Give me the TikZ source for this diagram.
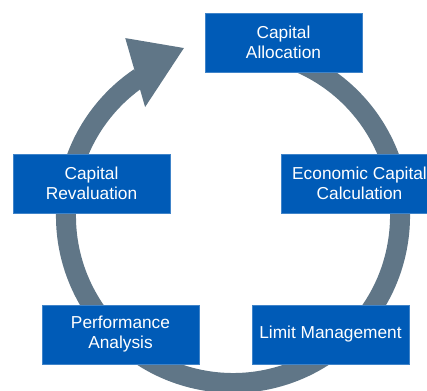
\documentclass[tikz,border=0pt]{standalone}
\usepackage{fontspec}
\setmainfont{Liberation Sans}
\usetikzlibrary{calc}
\definecolor{boxblue}{RGB}{0,91,183}
\definecolor{ringgray}{RGB}{96,118,135}
\begin{document}
\begin{tikzpicture}[x=1pt,y=1pt,
   stage/.style={fill=boxblue,draw=boxblue!75!white,line width=.6pt,text=white,
     minimum width=157pt,minimum height=59pt,inner sep=0pt,align=center,
     font=\fontsize{17.3}{20}\selectfont},
   ring/.style={draw=ringgray,line width=20pt}]
\clip (0,0) rectangle (427,390);
\coordinate (ctr) at (233,174);
% cycle arrow
\draw[ring] ($(ctr)+(80:167)$) arc[start angle=80,end angle=-236,radius=167];
\coordinate (tip) at ($(ctr)+(106.3:175)$);
\coordinate (barbout) at ($(ctr)+(121.2:208)$);
\coordinate (barbin) at ($(ctr)+(128.9:140)$);
\fill[ringgray] (tip) -- (barbout) -- (barbin) -- cycle;
% stages
\node[stage] (alloc) at (283.5,347.5) {Capital\\Allocation};
\node[stage] (econ) at (359.5,206.5) {Economic Capital\\Calculation};
\node[stage] (limit) at (330.5,55.5) {Limit Management};
\node[stage] (perf) at (120.5,55.5) {Performance\\Analysis};
\node[stage] (reval) at (91.5,206.5) {Capital\\Revaluation};
\end{tikzpicture}
\end{document}
